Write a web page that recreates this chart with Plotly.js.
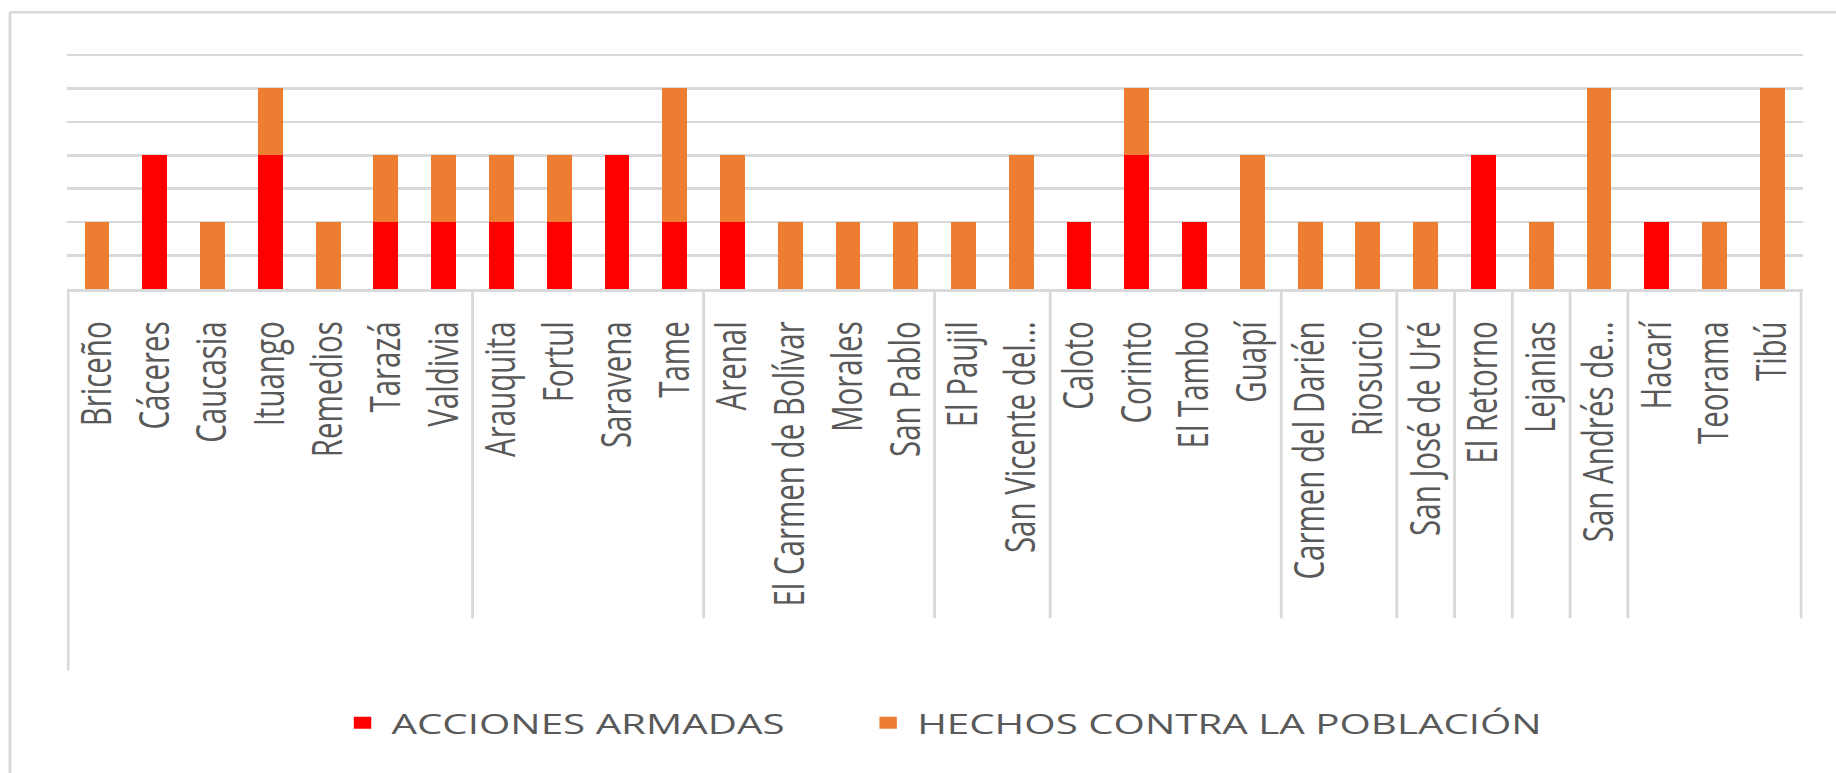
<!DOCTYPE html>
<html>
<head>
<meta charset="utf-8">
<script src="https://cdn.plot.ly/plotly-3.0.1.min.js"></script>
<style>
  html, body { margin: 0; padding: 0; background: #ffffff; overflow: hidden; }
  #chart { width: 1266px; height: 773px; transform: scaleX(1.4502); transform-origin: 0 0; }
</style>
</head>
<body>
<div id="chart"></div>
<script>
// ---- Data ----
const municipios = ['Briceño','Cáceres','Caucasia','Ituango','Remedios','Tarazá','Valdivia',
  'Arauquita','Fortul','Saravena','Tame',
  'Arenal','El Carmen de Bolívar','Morales','San Pablo',
  'El Paujil','San Vicente del…',
  'Caloto','Corinto','El Tambo','Guapí',
  'Carmen del Darién','Riosucio',
  'San José de Uré',
  'El Retorno',
  'Lejanias',
  'San Andrés de…',
  'Hacarí','Teorama','Tibú'];
const departamentos = ['Antioquia','Antioquia','Antioquia','Antioquia','Antioquia','Antioquia','Antioquia',
  'Arauca','Arauca','Arauca','Arauca',
  'Bolívar','Bolívar','Bolívar','Bolívar',
  'Caquetá','Caquetá',
  'Cauca','Cauca','Cauca','Cauca',
  'Chocó','Chocó',
  'Córdoba',
  'Guaviare',
  'Meta',
  'Nariño',
  'Norte de Santander','Norte de Santander','Norte de Santander'];
const accionesArmadas = [0,2,0,2,0,1,1, 1,1,2,1, 1,0,0,0, 0,0, 1,2,1,0, 0,0, 0, 2, 0, 0, 1,0,0];
const hechosPoblacion = [1,0,1,1,1,1,1, 1,1,0,2, 1,1,1,1, 1,2, 0,1,0,2, 1,1, 1, 0, 1, 3, 0,1,3];
const seriesNames = ['ACCIONES ARMADAS', 'HECHOS CONTRA LA POBLACIÓN'];

// ---- Styles ----
const RED = '#FF0000', ORANGE = '#ED7D31', GRID = '#D9D9D9', TEXT = '#595959';
const FONT = 'Open Sans, Noto Sans, sans-serif';

const traces = [
  { type: 'bar', name: seriesNames[0], x: municipios, y: accionesArmadas, legend: 'legend',
    marker: { color: RED, line: { width: 0 } }, hoverinfo: 'x+y+name' },
  { type: 'bar', name: seriesNames[1], x: municipios, y: hechosPoblacion, legend: 'legend2',
    marker: { color: ORANGE, line: { width: 0 } }, hoverinfo: 'x+y+name' }
];

// group separator lines under the axis, derived from the department list
const shapes = [];
const sepBottom = -1.395, edgeBottom = -1.617;
shapes.push({ type: 'line', xref: 'x', yref: 'paper', x0: -0.5, x1: -0.5, y0: 0, y1: edgeBottom,
  line: { color: GRID, width: 2 } });
for (let i = 1; i < departamentos.length; i++) {
  if (departamentos[i] !== departamentos[i - 1]) {
    shapes.push({ type: 'line', xref: 'x', yref: 'paper', x0: i - 0.5, x1: i - 0.5, y0: 0, y1: sepBottom,
      line: { color: GRID, width: 2 } });
  }
}
shapes.push({ type: 'line', xref: 'x', yref: 'paper', x0: municipios.length - 0.5, x1: municipios.length - 0.5,
  y0: 0, y1: sepBottom, line: { color: GRID, width: 2 } });
// outer chart-area frame (top and left edges visible)
shapes.push({ type: 'line', xref: 'paper', yref: 'paper', x0: -0.0327, x1: 1.1, y0: 1.1725, y1: 1.1725,
  line: { color: GRID, width: 2.5 } });
shapes.push({ type: 'line', xref: 'paper', yref: 'paper', x0: -0.0327, x1: -0.0327, y0: 1.1725, y1: -2.2,
  line: { color: GRID, width: 2 } });

const legendFont = { family: FONT, size: 27.8, color: TEXT };
const layout = {
  width: 1266, height: 773,
  margin: { l: 46, r: 23, t: 53, b: 484, pad: 0 },
  paper_bgcolor: '#ffffff', plot_bgcolor: '#ffffff',
  barmode: 'stack', bargap: 0.57,
  font: { family: FONT, color: TEXT },
  showlegend: true,
  legend: {
    orientation: 'h', x: 0.1537, xanchor: 'left', y: -1.84, yanchor: 'middle',
    font: legendFont, itemwidth: 30, bgcolor: 'rgba(0,0,0,0)'
  },
  legend2: {
    orientation: 'h', x: 0.4565, xanchor: 'left', y: -1.84, yanchor: 'middle',
    font: legendFont, itemwidth: 30, bgcolor: 'rgba(0,0,0,0)'
  },
  xaxis: {
    type: 'category', tickmode: 'array', tickvals: municipios, ticktext: municipios,
    tickangle: -90, ticks: '', ticklabelstandoff: 18,
    tickfont: { family: FONT, size: 29.5, color: TEXT },
    showline: true, linecolor: GRID, linewidth: 2.5,
    showgrid: false, zeroline: false, automargin: false, fixedrange: true
  },
  yaxis: {
    range: [0, 3.53], tickmode: 'linear', tick0: 0, dtick: 0.5,
    showticklabels: false, ticks: '', showgrid: true, gridcolor: GRID, gridwidth: 2.5,
    zeroline: false, showline: false, automargin: false, fixedrange: true
  },
  shapes: shapes
};

Plotly.newPlot('chart', traces, layout, { displayModeBar: false, staticPlot: true, responsive: false });
</script>
</body>
</html>
